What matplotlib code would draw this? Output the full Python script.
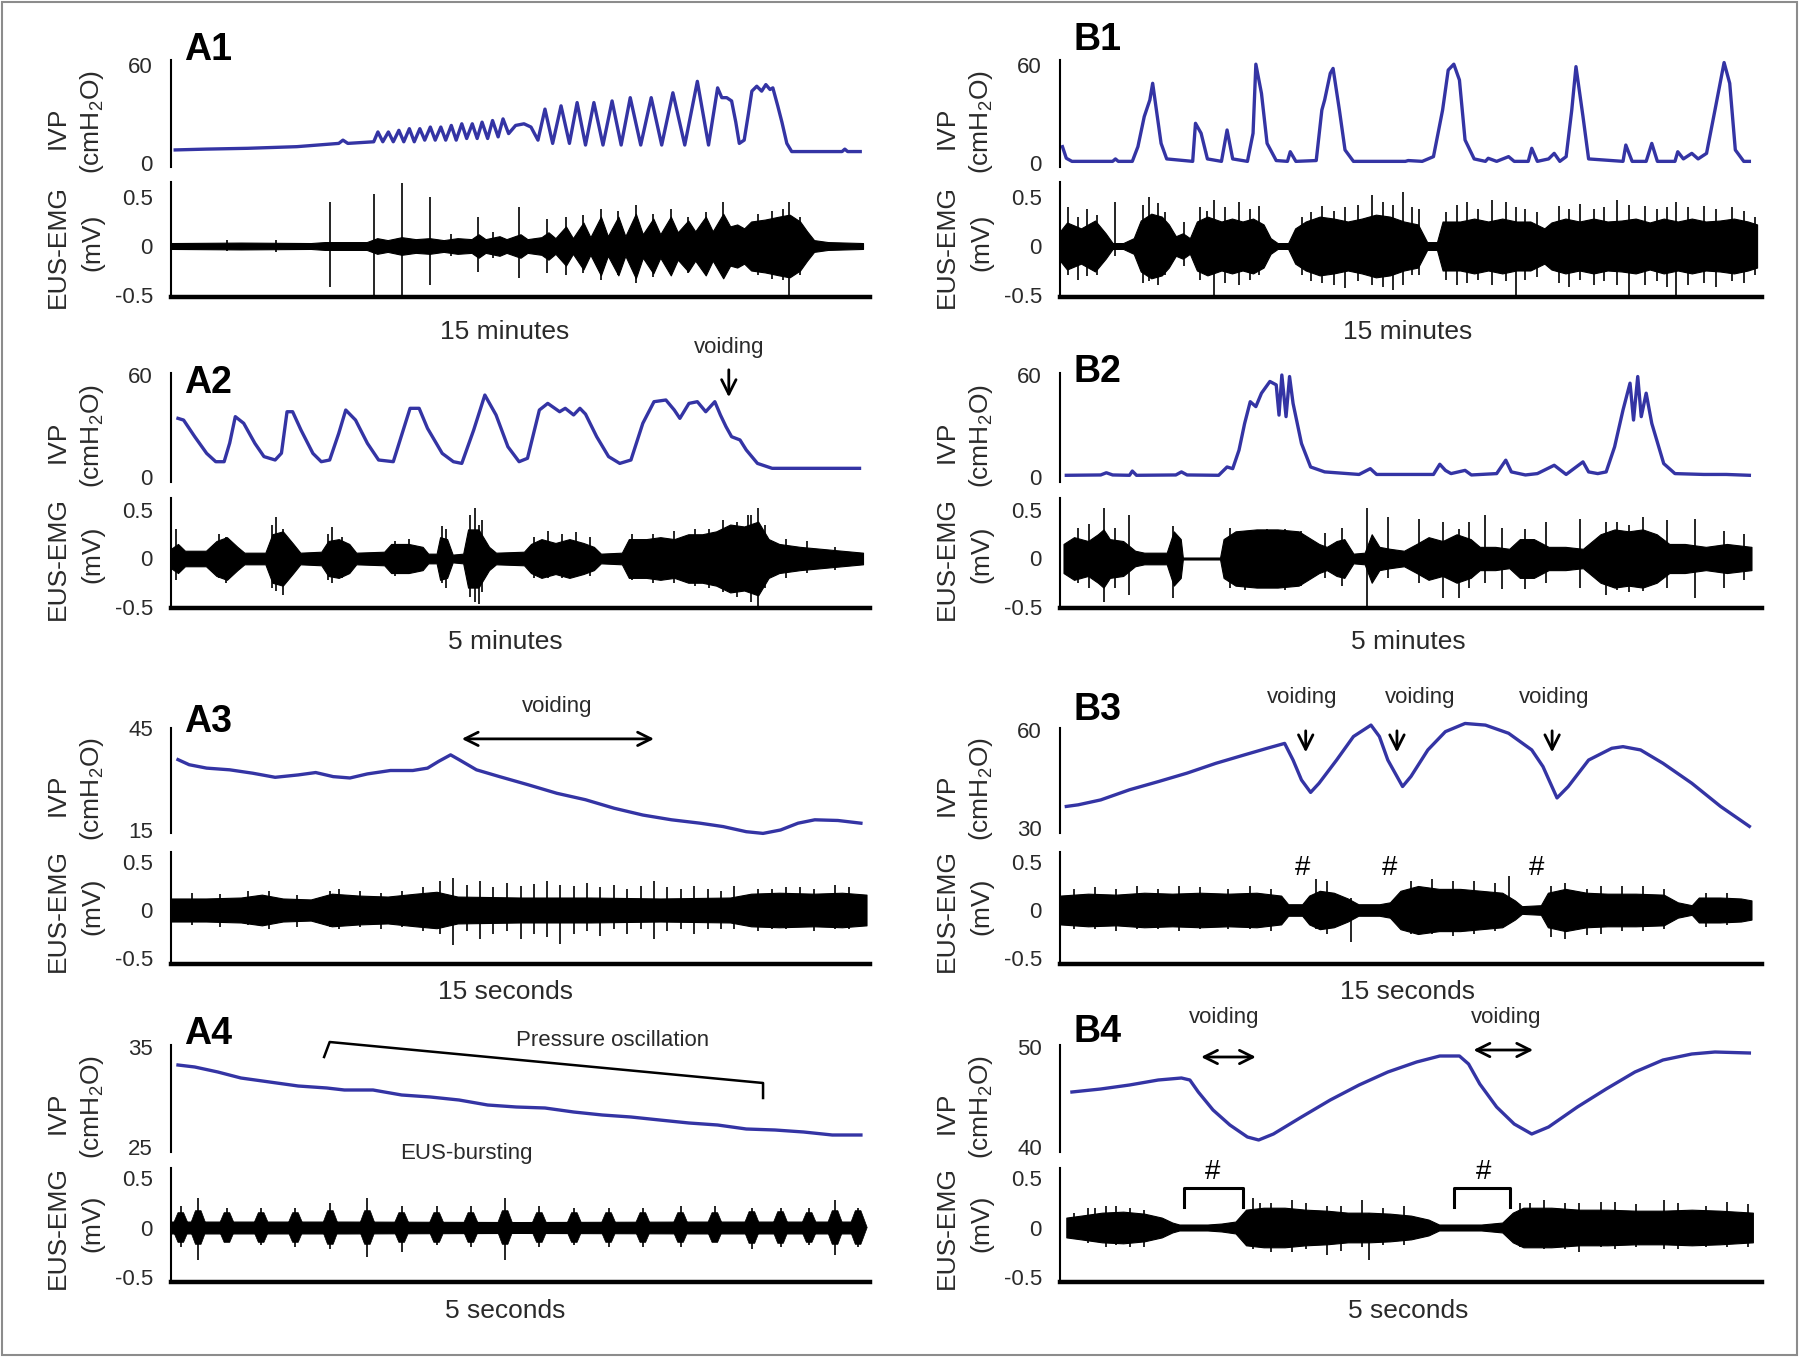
import numpy as np
import matplotlib
matplotlib.use("Agg")
import matplotlib.pyplot as plt
from matplotlib.patches import Rectangle

plt.rcParams['font.family'] = ['Liberation Sans', 'DejaVu Sans']
plt.rcParams['mathtext.fontset'] = 'custom'
plt.rcParams['mathtext.rm'] = 'Liberation Sans'
plt.rcParams['mathtext.it'] = 'Liberation Sans:italic'
plt.rcParams['mathtext.bf'] = 'Liberation Sans:bold'

# ---------------- data (x = % of trace length) ----------------
# IVP traces (cmH2O)
a1_x = [0.6, 5, 11, 18, 24, 24.6, 25.3, 29.0,
        29.6, 30.3, 31.1, 31.8, 32.6, 33.3, 34.1, 34.8, 35.6, 36.3, 37.1, 37.8,
        38.6, 39.3, 40.1, 40.8, 41.6, 42.3, 43.1, 43.8, 44.5, 45.3, 46.0, 46.8,
        47.5, 48.3, 49.3, 50.5, 51.5, 52.5,
        53.5, 54.6, 55.8, 57.0, 58.1, 59.3, 60.5, 61.8, 63.1, 64.4, 65.7, 67.2,
        68.7, 70.2, 71.8, 73.5, 75.3, 76.9, 78.2, 78.8, 79.5, 80.2, 80.8, 81.3,
        82.0, 82.6, 83.1, 83.8, 84.5, 85.1, 85.7, 86.1, 86.8, 87.4, 88.1, 88.8,
        96.0, 96.4, 96.8, 98.6]
a1_ivp = [8, 8.5, 9, 10, 12, 14, 12, 13,
          19, 13, 19, 13, 20, 13, 21, 13, 21, 14, 22, 14,
          22, 14, 23, 14, 24, 15, 24, 15, 25, 15, 26, 16,
          27, 18, 23, 24, 22, 14,
          33, 12, 35, 12, 37, 11, 37, 11, 38, 11, 40, 11,
          40, 11, 43, 11, 50, 11, 46, 40, 40, 38, 25, 12,
          14, 30, 44, 47, 44, 48, 45, 46, 35, 25, 12, 7,
          7, 8.5, 7, 7]

a2_x = [1.0, 1.8, 3.4, 5.1, 6.4, 7.6, 8.4, 9.2, 10.4, 12.0, 13.3, 14.9, 15.8,
        16.6, 17.4, 18.6, 20.3, 21.5, 22.7, 24.0, 25.0, 26.4, 28.1, 29.7, 31.8,
        33.0, 34.2, 35.5, 36.7, 38.8, 40.4, 41.6, 43.3, 44.9, 46.5, 48.2, 49.8,
        51.0, 52.7, 53.9, 55.6, 56.4, 57.6, 58.5, 59.3, 60.9, 62.6, 64.2, 65.8,
        67.5, 69.1, 70.8, 72.0, 72.8, 74.1, 75.3, 76.5, 77.8, 78.6, 79.4, 80.2,
        81.4, 82.3, 83.9, 86.0, 98.5]
a2_ivp = [34.5, 33.5, 23.7, 13.9, 9.0, 9.0, 20, 35.5, 31.6, 19.8, 12.0, 10.0, 14,
          38.4, 38.4, 27.6, 13.9, 9.0, 10.0, 25.7, 39.4, 33.5, 19.8, 10.0, 9.0,
          24.7, 40.4, 40.4, 28.6, 13.9, 9.0, 8.0, 27.6, 48.2, 36.5, 17.8, 9.0,
          11.0, 39.4, 43.3, 38.4, 40.4, 36.5, 40.4, 37, 23.7, 12.0, 8.0, 10.0,
          31.6, 44.3, 45.3, 39.4, 34.5, 43.3, 44.3, 38.4, 44.3, 36.5, 29.6, 23.7,
          21.8, 15.9, 8.0, 5.1, 5.1]

a3_x = [1.0, 2.6, 5.1, 8.4, 11.7, 14.9, 18.2, 20.7, 23.2, 25.6, 28.1, 31.4,
        34.6, 36.7, 38.3, 40.0, 41.2, 43.7, 47.0, 51.1, 55.2, 59.3, 63.4, 67.5,
        71.6, 75.7, 79.0, 82.3, 84.7, 87.2, 89.7, 92.1, 95.4, 98.7]
a3_ivp = [35.7, 34.2, 33.2, 32.7, 31.7, 30.5, 31.2, 31.9, 30.7, 30.3, 31.5, 32.5,
          32.5, 33.2, 35.2, 37.1, 35.7, 32.7, 30.7, 28.3, 25.8, 23.9, 21.4, 19.4,
          18.0, 17.0, 16.0, 14.5, 14.0, 15.0, 17.0, 18.0, 17.8, 17.0]

a4_x = [1.0, 3.4, 6.7, 10.0, 14.1, 18.2, 22.3, 24.8, 28.9, 33.0, 37.1, 41.2,
        45.3, 49.4, 53.5, 57.6, 61.7, 65.8, 69.9, 74.1, 78.2, 82.3, 86.4, 90.5,
        94.6, 98.7]
a4_ivp = [33.2, 33.0, 32.5, 31.9, 31.5, 31.1, 30.9, 30.7, 30.7, 30.2, 30.0, 29.7,
          29.2, 29.0, 28.9, 28.5, 28.2, 28.0, 27.7, 27.4, 27.2, 26.8, 26.7, 26.5,
          26.2, 26.2]

b1_x = [0.35, 0.9, 1.7, 7.5, 7.9, 8.3, 10.3, 11.1, 12.0, 12.8, 13.2, 13.6, 14.4,
        15.2, 18.9, 19.3, 20.1, 21.0, 23.0, 23.8, 24.6, 26.7, 27.5, 27.9, 28.7,
        29.5, 30.8, 32.4, 32.8, 33.6, 36.5, 37.3, 37.7, 38.5, 38.9, 39.8, 40.6,
        41.8, 49.2, 49.6, 51.6, 53.2, 54.5, 55.3, 56.1, 56.9, 57.7, 59.0, 60.6,
        61.0, 62.2, 63.9, 64.7, 66.7, 67.2, 68.0, 69.6, 70.4, 71.2, 72.1, 72.9,
        73.5, 74.5, 75.3, 80.2, 80.6, 81.5, 83.5, 84.3, 85.1, 87.6, 88.0, 88.8,
        90.0, 90.9, 92.1, 93.3, 94.6, 95.4, 96.2, 97.4, 98.2]
b1_ivp = [10.0, 2.9, 1, 1, 2.5, 1, 1, 10.0, 28.4, 38.6, 48.8, 36.5, 12.0,
          2.5, 1, 24.3, 18.2, 2.5, 1, 20.2, 2.5, 1, 18.2, 60.5, 42.6,
          12.0, 1.5, 1, 6.9, 1, 1.5, 32.4, 38.6, 54.9, 57.9, 32.4, 8.0,
          1, 1, 1.5, 1, 3.9, 32.4, 56.9, 60.5, 50.8, 14.1, 2.5, 1,
          2.9, 1, 3.9, 1, 1, 9.0, 1, 2.5, 5.9, 1, 3.9, 32.4,
          59.0, 28.4, 2.5, 1, 11.0, 1, 1, 12.0, 1, 1, 6.9, 2.5,
          5.9, 2.5, 5.9, 32.4, 61.5, 48.8, 8.0, 1, 1]

b2_x = [0.9, 5.8, 6.6, 7.5, 9.9, 10.3, 10.9, 16.5, 17.3, 18.1, 22.6, 23.8, 24.6,
        25.5, 26.3, 27.1, 27.9, 28.7, 29.9, 30.8, 31.2, 31.6, 32.2, 32.7, 33.2,
        34.4, 35.7, 37.7, 42.6, 44.2, 45.1, 53.2, 54.1, 54.9, 55.7, 57.7, 58.6,
        62.2, 63.5, 64.3, 66.3, 68.0, 70.4, 72.1, 74.5, 75.3, 76.6, 77.8, 79.0,
        80.2, 81.2, 81.7, 82.3, 82.8, 83.5, 84.3, 86.0, 87.6, 91.7, 94.9, 98.2]
b2_ivp = [1, 1.2, 2.5, 1.2, 1, 3.5, 1, 1.2, 3.0, 1.2, 1, 5.9, 4.9,
          15.8, 31.5, 44.3, 41.4, 49.3, 56.2, 54.2, 36.4, 60.0, 35.5, 59.1, 43.3,
          19.7, 5.9, 3.0, 1.5, 4.9, 1.5, 1.5, 7.5, 3.9, 2.0, 3.9, 1.2,
          2.0, 9.9, 3.0, 1.2, 2.0, 6.9, 1.5, 8.9, 3.0, 2.0, 3.0, 17.7,
          39.4, 55.2, 33.5, 59.1, 35.5, 49.3, 31.5, 7.9, 2.0, 1.5, 1.5, 1]

b3_x = [0.9, 2.6, 5.8, 9.9, 14.0, 18.1, 22.2, 26.3, 29.5, 32.0, 33.2, 34.4, 35.7,
        36.9, 39.4, 41.8, 44.3, 45.5, 46.7, 48.8, 50.0, 52.4, 54.9, 57.7, 60.6,
        63.9, 67.2, 68.8, 70.8, 72.4, 75.3, 78.6, 80.2, 82.7, 85.9, 90.0, 94.1, 98.2]
b3_ivp = [36.6, 37.1, 38.6, 41.7, 44.2, 46.8, 49.8, 52.4, 54.4, 55.9, 50.8, 44.7, 40.9,
          43.7, 50.8, 58.0, 61.5, 58.0, 50.8, 42.7, 45.8, 53.9, 59.5, 62.0, 61.5,
          59.0, 53.9, 48.8, 39.2, 42.7, 50.8, 54.4, 54.9, 53.9, 49.8, 43.7, 36.6, 30.5]

b4_x = [1.7, 5.8, 9.9, 14.0, 17.3, 18.5, 19.7, 21.8, 24.2, 26.7, 28.3, 30.4, 34.4,
        38.5, 42.6, 46.7, 50.8, 54.1, 56.9, 58.2, 59.8, 62.2, 64.7, 67.2, 69.6,
        73.7, 77.8, 81.9, 85.9, 90.0, 93.3, 98.2]
b4_ivp = [45.5, 45.8, 46.2, 46.7, 46.9, 46.7, 45.5, 43.7, 42.2, 41.0, 40.7, 41.3, 43.0,
          44.7, 46.2, 47.5, 48.5, 49.1, 49.1, 48.3, 46.3, 44.0, 42.3, 41.3, 42.0,
          44.0, 45.8, 47.5, 48.7, 49.3, 49.5, 49.4]

# EUS-EMG envelopes (mV) and single spikes (x, top, bottom)
a1_emg_x = [0, 10, 20, 22, 28, 29.5, 31, 33, 35, 37, 39, 41, 43, 44, 45, 47, 48, 50,
            51, 53, 54, 55, 56.5, 57.5, 59, 60, 61.5, 62.5, 64, 65, 66.5, 67.5, 69,
            70, 71.5, 72.5, 74, 75, 76.5, 77.5, 79, 80, 81, 82, 83, 85, 87, 88.5,
            90, 91, 92, 94, 99]
a1_emg = [0.03, 0.035, 0.03, 0.04, 0.04, 0.08, 0.06, 0.09, 0.07, 0.08, 0.06, 0.08,
          0.07, 0.12, 0.07, 0.1, 0.07, 0.12, 0.07, 0.09, 0.14, 0.08, 0.2, 0.08, 0.24,
          0.09, 0.3, 0.1, 0.3, 0.1, 0.33, 0.12, 0.28, 0.12, 0.3, 0.14, 0.26, 0.15,
          0.3, 0.15, 0.33, 0.2, 0.22, 0.18, 0.25, 0.27, 0.3, 0.32, 0.25, 0.15, 0.06,
          0.04, 0.03]
a1_spikes = [(22.7, 0.45, -0.42), (29.0, 0.53, -0.53), (33.0, 0.64, -0.53),
             (37.0, 0.5, -0.4), (43.9, 0.3, -0.27), (49.8, 0.4, -0.33),
             (53.8, 0.28, -0.28), (56.5, 0.3, -0.3), (61.5, 0.38, -0.35),
             (66.5, 0.42, -0.38), (71.5, 0.38, -0.3), (79, 0.45, -0.32),
             (88.4, 0.45, -0.53), (87.5, 0.38, -0.35), (59, 0.32, -0.28),
             (64, 0.36, -0.3), (69, 0.33, -0.32), (74, 0.3, -0.28), (76.5, 0.35, -0.3),
             (84, 0.33, -0.3), (86, 0.36, -0.34), (90, 0.3, -0.3), (8, 0.06, -0.05),
             (15, 0.06, -0.06), (40, 0.12, -0.1), (46, 0.14, -0.12)]

a2_emg_x = [0, 1, 2, 5, 6.5, 8, 9.5, 10.5, 13.5, 14.5, 16, 17.5, 18.5, 21.5, 22.5, 24,
            25.5, 26.5, 30.5, 31.5, 34, 36, 36.8, 38, 38.5, 39.5, 40.3, 41.8, 42.5,
            44, 45.5, 46.5, 50.5, 51.5, 53, 55, 57, 59, 60.5, 61.5, 64.5, 65.5, 68,
            70, 72, 74, 76, 78, 80, 82, 84, 85.5, 87, 90, 93, 96, 99]
a2_emg = [0.1, 0.15, 0.08, 0.08, 0.18, 0.22, 0.12, 0.06, 0.06, 0.25, 0.28, 0.15, 0.06,
          0.07, 0.18, 0.2, 0.15, 0.06, 0.07, 0.15, 0.15, 0.12, 0.05, 0.05, 0.22, 0.2,
          0.04, 0.05, 0.3, 0.3, 0.12, 0.06, 0.07, 0.15, 0.2, 0.16, 0.2, 0.16, 0.12,
          0.05, 0.06, 0.2, 0.2, 0.22, 0.2, 0.25, 0.25, 0.28, 0.35, 0.33, 0.38, 0.2,
          0.15, 0.12, 0.1, 0.08, 0.06]
a2_spikes = [(0.7, 0.3, -0.22), (15, 0.43, -0.33), (23, 0.32, -0.25), (38.8, 0.33, -0.25),
             (43.5, 0.52, -0.45), (44.5, 0.4, -0.35), (84, 0.52, -0.52),
             (82.5, 0.45, -0.35), (54, 0.28, -0.2), (58, 0.27, -0.18),
             (6.8, 0.25, -0.2), (7.8, 0.22, -0.25), (14.5, 0.35, -0.3), (16, 0.3, -0.38),
             (22.5, 0.25, -0.22), (24.5, 0.22, -0.2), (32, 0.18, -0.18), (34, 0.2, -0.15),
             (39.3, 0.3, -0.3), (42.8, 0.45, -0.4), (44, 0.35, -0.47), (52, 0.22, -0.2),
             (56, 0.25, -0.2), (60, 0.22, -0.18), (66, 0.25, -0.22), (69, 0.25, -0.25),
             (72, 0.28, -0.25), (75, 0.3, -0.28), (77, 0.3, -0.3), (79, 0.4, -0.35),
             (81, 0.38, -0.4), (83, 0.45, -0.45), (85, 0.35, -0.3), (88, 0.2, -0.2),
             (91, 0.18, -0.15), (95, 0.12, -0.12)]

a3_emg_x = [0, 5, 10, 13, 16, 20, 23, 27, 31, 35, 38, 41, 50, 60, 70, 80, 83, 87, 92,
            96, 99.5]
a3_emg = [0.12, 0.12, 0.13, 0.16, 0.12, 0.11, 0.17, 0.15, 0.14, 0.17, 0.19, 0.14,
          0.13, 0.13, 0.12, 0.13, 0.17, 0.18, 0.17, 0.18, 0.16]
a3_spikes = [(38.5, 0.3, -0.25), (40.3, 0.33, -0.36), (42.3, 0.26, -0.22),
             (44.2, 0.3, -0.3), (46.1, 0.24, -0.25), (48.0, 0.28, -0.22),
             (50.0, 0.25, -0.3), (51.9, 0.27, -0.25), (53.8, 0.3, -0.28),
             (55.7, 0.26, -0.35), (57.6, 0.25, -0.25), (59.5, 0.28, -0.22),
             (61.4, 0.24, -0.27), (63.4, 0.26, -0.2), (65.3, 0.22, -0.25),
             (67.2, 0.25, -0.2), (69.1, 0.3, -0.3), (71.0, 0.24, -0.22),
             (72.9, 0.22, -0.2), (74.8, 0.25, -0.25), (76.8, 0.22, -0.2),
             (78.7, 0.2, -0.2), (80.6, 0.25, -0.2), (86, 0.22, -0.2),
             (90, 0.24, -0.18), (95, 0.26, -0.2), (22.8, 0.2, -0.18),
             (3, 0.18, -0.16), (7, 0.17, -0.18), (11, 0.2, -0.16), (14, 0.2, -0.2),
             (18, 0.16, -0.18), (24, 0.22, -0.2), (27, 0.2, -0.18), (30, 0.18, -0.2),
             (33, 0.2, -0.18), (36, 0.24, -0.22), (84, 0.22, -0.22), (88, 0.24, -0.2),
             (92, 0.22, -0.22), (97, 0.24, -0.2)]

a4_emg_x = [0, 25, 50, 75, 99]
a4_emg = [0.06, 0.06, 0.055, 0.06, 0.06]
a4_burst_x = [1.4, 3.9, 8.0, 12.9, 17.8, 22.8, 28.1, 33.0, 38.0, 42.9, 47.8, 52.7,
              57.7, 62.6, 67.5, 72.9, 77.8, 83.1, 87.2, 91.3, 95.0, 98.3]
a4_burst_amp = [0.15, 0.17, 0.15, 0.15, 0.15, 0.17, 0.17, 0.15, 0.15, 0.15, 0.17,
                0.15, 0.15, 0.15, 0.15, 0.15, 0.15, 0.16, 0.16, 0.15, 0.17, 0.17]
a4_spikes = [(1.4, 0.22, -0.2), (3.9, 0.3, -0.33), (8.0, 0.2, -0.15), (12.9, 0.2, -0.18),
             (17.8, 0.2, -0.2), (22.8, 0.25, -0.22), (28.1, 0.3, -0.3),
             (33.0, 0.22, -0.25), (38.0, 0.22, -0.18), (42.9, 0.22, -0.2),
             (47.8, 0.3, -0.33), (52.7, 0.22, -0.2), (57.7, 0.2, -0.18),
             (62.6, 0.2, -0.2), (67.5, 0.2, -0.2), (72.9, 0.22, -0.2),
             (77.8, 0.22, -0.15), (83.1, 0.2, -0.22), (87.2, 0.2, -0.2),
             (91.3, 0.2, -0.18), (95.0, 0.28, -0.28), (98.3, 0.2, -0.2)]

b1_emg_x = [0, 1, 3, 5, 6.5, 7.5, 9, 10.5, 11.5, 13, 14.5, 15.5, 16.5, 17.5, 18.5,
            19.5, 21, 23, 24.5, 26, 27.5, 29, 30, 31, 32.5, 33.5, 35, 37, 39, 41, 43,
            45, 47, 49, 51, 52.3, 53.7, 54.5, 57, 59, 61, 63, 65, 67, 69, 70, 72, 74,
            76, 78, 80, 82, 84, 86, 88, 90, 92, 94, 96, 98, 99.3]
b1_emg = [0.15, 0.24, 0.18, 0.26, 0.13, 0.03, 0.03, 0.08, 0.26, 0.33, 0.3, 0.22, 0.1,
          0.13, 0.08, 0.25, 0.3, 0.25, 0.28, 0.25, 0.28, 0.22, 0.08, 0.03, 0.03, 0.18,
          0.25, 0.3, 0.28, 0.25, 0.28, 0.32, 0.3, 0.25, 0.22, 0.04, 0.04, 0.25, 0.25,
          0.28, 0.25, 0.28, 0.25, 0.25, 0.18, 0.24, 0.28, 0.25, 0.28, 0.25, 0.26, 0.28,
          0.24, 0.28, 0.25, 0.28, 0.25, 0.26, 0.28, 0.25, 0.22]
b1_spikes = [(1.2, 0.40, -0.30), (2.5, 0.30, -0.35), (3.8, 0.38, -0.31), (5.2, 0.32, -0.3),
             (7.8, 0.45, -0.1), (11.8, 0.42, -0.38), (12.7, 0.5, -0.36), (14.0, 0.44, -0.4),
             (15.0, 0.35, -0.3), (17.6, 0.25, -0.2), (19.9, 0.40, -0.35), (21.0, 0.36, -0.3),
             (21.9, 0.47, -0.53), (23.5, 0.40, -0.38), (25.5, 0.45, -0.4), (27.0, 0.38, -0.35),
             (28.4, 0.41, -0.3), (34.5, 0.3, -0.3), (35.8, 0.35, -0.36), (37.3, 0.41, -0.38),
             (39.0, 0.36, -0.4), (40.6, 0.40, -0.43), (42.5, 0.42, -0.36), (44.5, 0.52, -0.4),
             (46.0, 0.45, -0.42), (47.5, 0.42, -0.45), (48.8, 0.55, -0.4), (50.2, 0.40, -0.3),
             (51.1, 0.38, -0.3), (55.0, 0.35, -0.35), (56.5, 0.42, -0.4), (58.0, 0.45, -0.38),
             (59.5, 0.38, -0.35), (61.6, 0.47, -0.4), (63.6, 0.45, -0.36), (65.0, 0.4, -0.53),
             (66.2, 0.38, -0.35), (68.0, 0.35, -0.32), (71.1, 0.41, -0.38), (72.5, 0.38, -0.42),
             (74.1, 0.43, -0.35), (76, 0.38, -0.4), (77.5, 0.4, -0.36), (79.3, 0.47, -0.4),
             (81, 0.42, -0.53), (83.3, 0.41, -0.4), (85, 0.38, -0.36), (86.5, 0.4, -0.42),
             (87.8, 0.45, -0.53), (89.5, 0.4, -0.4), (91.8, 0.41, -0.38), (93.5, 0.38, -0.42),
             (95.7, 0.4, -0.36), (97.5, 0.36, -0.38), (99, 0.3, -0.3)]

b2_emg_x = [0.5, 2, 4, 5.4, 6.2, 7.1, 9, 10.7, 12, 15.2, 16.2, 17.2, 17.5, 22.8, 23.3,
            25, 28, 31, 34, 36.9, 38, 39.4, 40.5, 41.8, 43.4, 44.4, 45.5, 47, 49, 50.8,
            52.5, 54.5, 56.5, 58.5, 59.8, 62, 64, 65.5, 67.5, 69.6, 72, 74.5, 77, 79,
            81, 83, 85, 86.8, 89, 92, 95, 98.5]
b2_emg = [0.15, 0.22, 0.18, 0.25, 0.3, 0.2, 0.18, 0.08, 0.06, 0.06, 0.28, 0.2, 0.01,
          0.01, 0.2, 0.28, 0.3, 0.3, 0.28, 0.15, 0.12, 0.18, 0.2, 0.05, 0.06, 0.25,
          0.12, 0.1, 0.08, 0.15, 0.22, 0.18, 0.25, 0.2, 0.12, 0.12, 0.1, 0.2, 0.2,
          0.12, 0.12, 0.1, 0.25, 0.3, 0.28, 0.3, 0.25, 0.15, 0.15, 0.12, 0.15, 0.12]
b2_spikes = [(2.6, 0.31, -0.25), (4.2, 0.36, -0.3), (6.2, 0.52, -0.45), (7.9, 0.31, -0.3),
             (9.9, 0.45, -0.38), (16.1, 0.33, -0.41), (24.2, 0.31, -0.3), (26.3, 0.28, -0.32),
             (29.5, 0.3, -0.3), (32, 0.3, -0.32), (34.4, 0.28, -0.28), (37.7, 0.26, -0.2),
             (40.2, 0.31, -0.28), (43.8, 0.52, -0.52), (46.7, 0.43, -0.2), (51.2, 0.41, -0.25),
             (54.5, 0.38, -0.41), (56.9, 0.3, -0.41), (58.2, 0.38, -0.3), (60.6, 0.45, -0.25),
             (63.0, 0.31, -0.31), (66.3, 0.3, -0.31), (69.2, 0.38, -0.25), (74.1, 0.41, -0.3),
             (77.8, 0.38, -0.38), (79.4, 0.38, -0.32), (81, 0.35, -0.35), (83.1, 0.43, -0.33),
             (86.4, 0.4, -0.3), (90.4, 0.41, -0.41), (94.6, 0.28, -0.3), (97.4, 0.25, -0.22)]

b3_emg_x = [0, 4, 8, 12, 16, 20, 24, 28, 31.5, 32.5, 34.5, 35.5, 37, 39, 41, 42.5, 45.5,
            47, 48.5, 51, 54, 57, 60, 63, 64.8, 65.8, 68.5, 69.5, 72, 75, 78, 82, 86, 88,
            90, 91, 94, 97, 98.5]
b3_emg = [0.15, 0.17, 0.16, 0.18, 0.17, 0.18, 0.17, 0.18, 0.15, 0.06, 0.06, 0.15, 0.2,
          0.18, 0.12, 0.06, 0.06, 0.08, 0.2, 0.25, 0.22, 0.22, 0.2, 0.18, 0.1, 0.04,
          0.05, 0.18, 0.22, 0.18, 0.17, 0.17, 0.16, 0.08, 0.05, 0.13, 0.13, 0.12, 0.1]
b3_spikes = [(36.5, 0.32, -0.2), (38, 0.3, -0.25), (41.5, 0.12, -0.33), (50, 0.3, -0.25),
             (56, 0.3, -0.27), (64, 0.35, -0.15), (70, 0.25, -0.28), (75, 0.22, -0.26),
             (24, 0.22, -0.2), (2, 0.22, -0.2), (5, 0.24, -0.2), (8, 0.22, -0.22),
             (11, 0.25, -0.2), (14, 0.22, -0.2), (17, 0.25, -0.22), (20, 0.24, -0.2),
             (27, 0.25, -0.2), (30, 0.22, -0.22), (53, 0.32, -0.25), (59, 0.3, -0.25),
             (62, 0.28, -0.22), (72, 0.28, -0.3), (77, 0.25, -0.25), (80, 0.25, -0.22),
             (83, 0.25, -0.22), (86, 0.22, -0.2), (92, 0.18, -0.18), (95, 0.18, -0.16)]

b4_emg_x = [0.9, 3, 6, 9, 12, 14.5, 16, 17, 21, 23, 25, 26.5, 29, 32, 35, 38, 41, 44,
            47, 50, 52.5, 54, 60, 63, 64.5, 66, 70, 74, 78, 82, 86, 90, 94, 98.7]
b4_emg = [0.1, 0.12, 0.15, 0.16, 0.14, 0.1, 0.05, 0.03, 0.03, 0.04, 0.06, 0.18, 0.2,
          0.2, 0.18, 0.17, 0.15, 0.15, 0.14, 0.12, 0.08, 0.03, 0.03, 0.05, 0.15, 0.2,
          0.2, 0.18, 0.18, 0.17, 0.17, 0.18, 0.17, 0.15]
b4_spikes = [(5, 0.2, -0.15), (8, 0.22, -0.18), (28.5, 0.25, -0.2), (33, 0.28, -0.25),
             (38, 0.22, -0.28), (43, 0.28, -0.2), (44, 0.15, -0.33), (67, 0.25, -0.2),
             (72, 0.25, -0.22), (77, 0.26, -0.2), (86, 0.28, -0.22), (92, 0.22, -0.2),
             (2, 0.15, -0.12), (4, 0.2, -0.16), (6.5, 0.22, -0.2), (10, 0.2, -0.2),
             (12, 0.18, -0.2), (27.5, 0.3, -0.22), (30, 0.25, -0.25), (35, 0.25, -0.22),
             (40, 0.22, -0.24), (46, 0.2, -0.18), (49, 0.22, -0.18), (65.5, 0.25, -0.2),
             (69, 0.28, -0.22), (74, 0.25, -0.25), (79, 0.26, -0.22), (82, 0.24, -0.2),
             (88, 0.25, -0.22), (95, 0.26, -0.2), (98, 0.24, -0.2)]

# ---------------- layout (pixels of the 1800x1358 canvas) ----------------
W, H = 1800, 1358
BLUE = '#3434a4'
TXT = '#2a2a2a'
COL_X = [(171, 870), (1060, 1762)]
IVP_PX = [(60, 167), (373, 482), (728, 833), (1045, 1152)]
EMG_PX = [(182, 297), (498, 608), (852, 964), (1168, 1282)]
EMG_TICK_PX = [(197, 295), (510, 607), (862, 958), (1178, 1277)]
XLABEL_Y = [332, 642, 992, 1311]
XLABEL_X = [505, 1408]

fig = plt.figure(figsize=(W / 100, H / 100), dpi=100)


def fx(x):
    return x / W


def fy(y):
    return 1 - y / H


def add_ax(x0, x1, top, bottom):
    return fig.add_axes([fx(x0), fy(bottom), (x1 - x0) / W, (bottom - top) / H])


def lims(top, bottom, p_hi, v_hi, p_lo, v_lo):
    s = (v_hi - v_lo) / (p_lo - p_hi)
    return v_lo - (bottom - p_lo) * s, v_hi + (p_hi - top) * s


def style(ax, bottom=False):
    ax.set_xlim(0, 100)
    ax.patch.set_alpha(0)
    for s in ['top', 'right', 'bottom']:
        ax.spines[s].set_visible(False)
    ax.spines['left'].set_linewidth(1.5)
    if bottom:
        ax.spines['bottom'].set_visible(True)
        ax.spines['bottom'].set_linewidth(3.2)
    ax.set_xticks([])
    ax.tick_params(axis='y', length=0, pad=13, labelsize=16, labelcolor=TXT)


panels = [
    # name, col, row, ivp ticks (hi, lo), ivp tick px, label y, xlabel, ivp data, emg data
    ("A1", 0, 0, (60, 0), (65, 163), 50, "15 minutes", a1_x, a1_ivp, a1_emg_x, a1_emg, a1_spikes),
    ("A2", 0, 1, (60, 0), (375, 477), 383, "5 minutes", a2_x, a2_ivp, a2_emg_x, a2_emg, a2_spikes),
    ("A3", 0, 2, (45, 15), (728, 830), 722, "15 seconds", a3_x, a3_ivp, a3_emg_x, a3_emg, a3_spikes),
    ("A4", 0, 3, (35, 25), (1047, 1147), 1034, "5 seconds", a4_x, a4_ivp, a4_emg_x, a4_emg, a4_spikes),
    ("B1", 1, 0, (60, 0), (65, 163), 40, "15 minutes", b1_x, b1_ivp, b1_emg_x, b1_emg, b1_spikes),
    ("B2", 1, 1, (60, 0), (375, 477), 372, "5 minutes", b2_x, b2_ivp, b2_emg_x, b2_emg, b2_spikes),
    ("B3", 1, 2, (60, 30), (730, 828), 710, "15 seconds", b3_x, b3_ivp, b3_emg_x, b3_emg, b3_spikes),
    ("B4", 1, 3, (50, 40), (1047, 1147), 1032, "5 seconds", b4_x, b4_ivp, b4_emg_x, b4_emg, b4_spikes),
]

axes = {}
for name, col, row, (vh, vl), (ph, pl), lab_y, xlab, ix, iy, ex, ea, sp in panels:
    x0, x1 = COL_X[col]
    top, bot = IVP_PX[row]
    ax = add_ax(x0, x1, top, bot)
    style(ax)
    ax.set_ylim(*lims(top, bot, ph, vh, pl, vl))
    ax.set_yticks([vl, vh])
    ax.set_yticklabels([str(vl), str(vh)])
    ax.plot(ix, iy, color=BLUE, lw=2.4, clip_on=False, solid_joinstyle='round')

    etop, ebot = EMG_PX[row]
    p05, pm05 = EMG_TICK_PX[row]
    ex_ax = add_ax(x0, x1, etop, ebot)
    style(ex_ax, bottom=True)
    ex_ax.set_ylim(*lims(etop, ebot, p05, 0.5, pm05, -0.5))
    ex_ax.set_yticks([-0.5, 0, 0.5])
    ex_ax.set_yticklabels(['-0.5', '0', '0.5'])
    ea = np.asarray(ea)
    ex_ax.fill_between(ex, -ea, ea, color='black', lw=0.8, clip_on=False)
    for sx, st, sb in sp:
        ex_ax.vlines(sx, sb, st, color='black', lw=1.2)
    axes[name] = (ax, ex_ax)

    # labels
    fig.text(fx(x0 + 13), fy(lab_y), name, fontsize=27, fontweight='bold',
             ha='left', va='center', color='black')
    ivp_mid = (top + bot) / 2
    fig.text(fx(x0 - 113), fy(ivp_mid + 14), "IVP", rotation=90, fontsize=19,
             ha='center', va='center', color=TXT)
    fig.text(fx(x0 - 79), fy(ivp_mid + 9), r"(cmH$_\mathrm{2}$O)", rotation=90,
             fontsize=19, ha='center', va='center', color=TXT)
    zero_px = (p05 + pm05) / 2
    fig.text(fx(x0 - 113), fy(zero_px), "EUS-EMG", rotation=90, fontsize=19,
             ha='center', va='center', color=TXT)
    fig.text(fx(x0 - 79), fy(zero_px - 4), "(mV)", rotation=90, fontsize=19,
             ha='center', va='center', color=TXT)
    fig.text(fx(XLABEL_X[col]), fy(XLABEL_Y[row]), xlab, fontsize=19,
             ha='center', va='center', color=TXT)

# A4 EMG bursts
ax_a4e = axes["A4"][1]
for bx, ba in zip(a4_burst_x, a4_burst_amp):
    ax_a4e.fill([bx - 1.3, bx - 0.4, bx + 0.4, bx + 1.3, bx + 0.4, bx - 0.4],
                [0, ba, ba, 0, -ba, -ba], color='black', lw=0.5)

arrow_kw = dict(arrowstyle='->', lw=2.0, color='black', mutation_scale=26)
both_kw = dict(arrowstyle='<->', lw=2.0, color='black', mutation_scale=24)

# A2 voiding
ax = axes["A2"][0]
ax.text(79.8, 75.9, "voiding", fontsize=16, ha='center', va='center', color=TXT, clip_on=False)
ax.annotate('', xy=(79.8, 45.3), xytext=(79.8, 64.7), arrowprops=arrow_kw, annotation_clip=False)

# A3 voiding
ax = axes["A3"][0]
ax.text(55.2, 51.2, "voiding", fontsize=16, ha='center', va='center', color=TXT, clip_on=False)
ax.annotate('', xy=(69.5, 41.8), xytext=(41.2, 41.8), arrowprops=both_kw, annotation_clip=False)

# A4 pressure oscillation bracket
ax = axes["A4"][0]
ax.plot([21.9, 22.7, 84.7, 84.7], [34.0, 35.5, 31.4, 29.9], color='black', lw=1.8, clip_on=False)
ax.text(63.2, 35.6, "Pressure oscillation", fontsize=16, ha='center', va='center',
        color=TXT, clip_on=False)
ax.text(42.3, 24.3, "EUS-bursting", fontsize=16, ha='center', va='center',
        color=TXT, clip_on=False)

# B3 voiding + #
ax, axe = axes["B3"]
for tx, ax_x in zip([34.5, 51.3, 70.4], [35.0, 48.0, 70.1]):
    ax.text(tx, 69.8, "voiding", fontsize=16, ha='center', va='center', color=TXT, clip_on=False)
    ax.annotate('', xy=(ax_x, 52.3), xytext=(ax_x, 60.6), arrowprops=arrow_kw, annotation_clip=False)
for hx in [34.5, 46.9, 67.9]:
    axe.text(hx, 0.44, "#", fontsize=20, ha='center', va='center', color='black', clip_on=False)

# B4 voiding + # brackets
ax, axe = axes["B4"]
ax.text(23.4, 52.9, "voiding", fontsize=16, ha='center', va='center', color=TXT, clip_on=False)
ax.text(63.5, 52.9, "voiding", fontsize=16, ha='center', va='center', color=TXT, clip_on=False)
ax.annotate('', xy=(28.3, 49.0), xytext=(19.7, 49.0), arrowprops=both_kw, annotation_clip=False)
ax.annotate('', xy=(67.8, 49.7), xytext=(58.5, 49.7), arrowprops=both_kw, annotation_clip=False)
for (bl, br), hx in zip([(17.7, 26.1), (56.1, 64.1)], [21.8, 60.3]):
    axe.plot([bl, bl, br, br], [0.212, 0.404, 0.404, 0.212], color='black', lw=2.2, clip_on=False)
    axe.text(hx, 0.556, "#", fontsize=20, ha='center', va='center', color='black', clip_on=False)

# outer frame
fig.add_artist(Rectangle((fx(2), fy(1355)), 1795 / W, 1353 / H, transform=fig.transFigure,
                         fill=False, edgecolor='#8c8c8c', lw=1.5))

fig.savefig("out.png", dpi=100)
